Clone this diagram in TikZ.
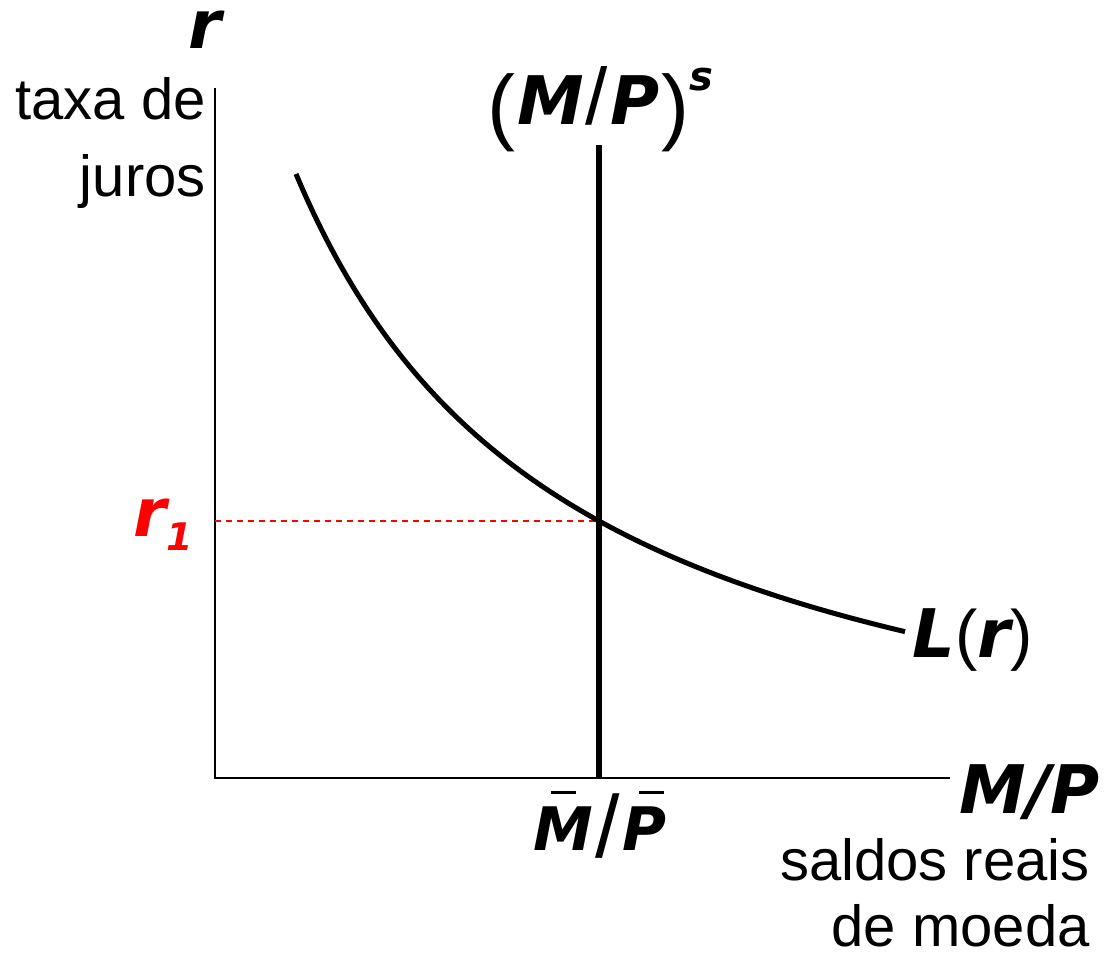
\documentclass[tikz,border=0pt]{standalone}
\usepackage{fontspec}
\setmainfont{Liberation Sans}
\newfontfamily\vf{DejaVu Sans}
\newcommand\upval[1]{{\rmfamily\mdseries\upshape #1}}
\newcommand\barred[1]{\leavevmode\rlap{\hspace{0.28em}\raisebox{0.93em}{\rule{0.42em}{0.05em}}}#1}
\begin{document}
\begin{tikzpicture}[x=0.5pt,y=-0.5pt,
  lbl/.style={inner sep=0pt, font=\fontsize{29}{34}\selectfont},
  mth/.style={inner sep=0pt, font=\fontsize{33.5}{40}\selectfont\vf\bfseries\itshape},
  axisline/.style={line width=1pt, black},
  supply/.style={line width=3pt, black},
  demand/.style={line width=2.5pt, black},
  guide/.style={line width=0.75pt, red, dash pattern=on 3pt off 2.5pt}]
\useasboundingbox (0,0) rectangle (1119,956);
% axes
\coordinate (O) at (215,778);
\coordinate (Ytop) at (215,88);
\coordinate (Xend) at (950,778);
\draw[axisline] (Ytop) -- (O) -- (Xend);
% money supply
\coordinate (Stop) at (599,145);
\coordinate (Sbot) at (599,778);
\draw[supply] (Stop) -- (Sbot);
% equilibrium guide
\coordinate (E) at (599,521);
\coordinate (R1) at (215,521);
\draw[guide] (R1) -- (E);
% demand curve
\draw[demand] plot[domain=296:905, samples=120] (\x, {842.8-1879.33/((\x-15)/100)});
% labels
\node[mth, anchor=base] (rlab) at (205,49) {r};
\node[lbl, anchor=base east] (taxa) at (206,120) {taxa de};
\node[lbl, anchor=base east] (juros) at (206,197) {juros};
\node[mth, anchor=base] (mps) at (600,125) {\raisebox{-5pt}{\fontsize{42}{42}\selectfont\upval{(}}\kern1pt M\kern1pt{\fontsize{40}{40}\selectfont\upval{/}}\kern1pt P\kern1pt\raisebox{-5pt}{\fontsize{42}{42}\selectfont\upval{)}}\raisebox{17pt}{\fontsize{20}{24}\selectfont s}};
\node[mth, red, anchor=base east] (r1lab) at (193,537) {r\raisebox{-7pt}{\fontsize{19}{24}\selectfont 1}};
\node[mth, anchor=base west] (Lr) at (912,657) {L\upval{(}r\upval{)}};
\node[mth, anchor=base east] (mp) at (1100,813) {M/P};
\node[mth, anchor=base, font=\fontsize{30}{36}\selectfont\vf\bfseries\itshape] (mbar) at (600,850) {\barred{M}\kern1pt\raisebox{-3.5pt}{\fontsize{44}{44}\selectfont\upval{/}}\kern1pt\barred{P}};
\node[lbl, anchor=base east] (saldos) at (1090,880) {saldos reais};
\node[lbl, anchor=base east] (moeda) at (1090,946) {de moeda};
\end{tikzpicture}
\end{document}
